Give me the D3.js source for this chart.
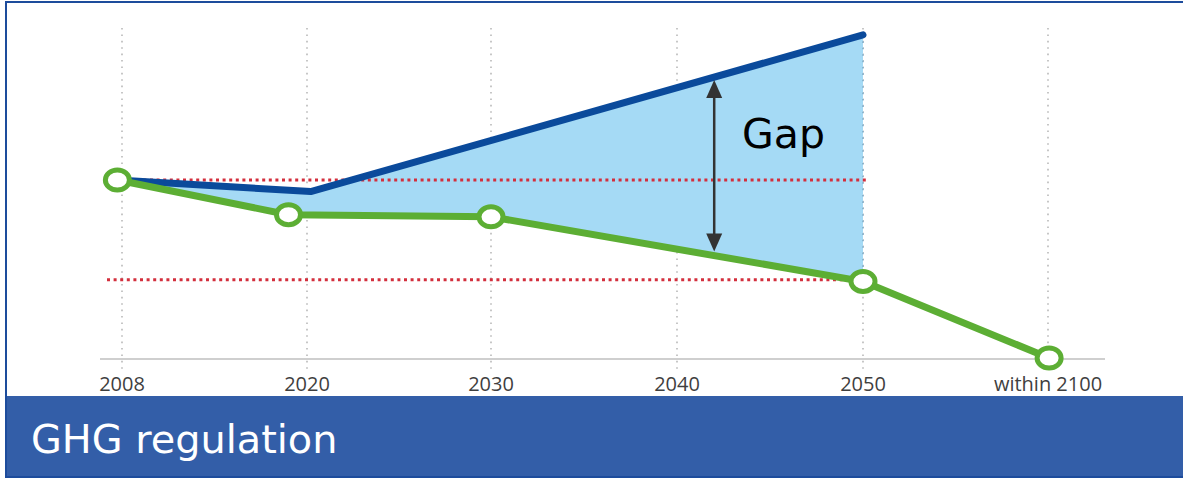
<!DOCTYPE html>
<html>
<head>
<meta charset="utf-8">
<script src="https://cdn.jsdelivr.net/npm/d3@7"></script>
<style>
  html, body { margin: 0; padding: 0; background: #fff; }
  svg { display: block; }
</style>
</head>
<body>
<svg id="chart" width="1183" height="479"></svg>
<script>
// Axis categories and their tick labels
const categories = [2008, 2020, 2030, 2040, 2050, 2100];
const tickLabels = ["2008", "2020", "2030", "2040", "2050", "within 2100"];

// Business-as-usual emissions path (index, 2008 = 100)
const bauYears  = [2007.7, 2020.2, 2050];
const bauValues = [100, 93.5, 181.5];

// Regulated reduction path (index, 2008 = 100)
const targetYears  = [2007.7, 2018.8, 2030, 2050, 2100.3];
const targetValues = [100, 80.5, 79.3, 43, 0];

// Reference levels (2008 level and 2050 target level)
const refLevels = [100, 44];

// Where the gap is measured
const gapYear = 2042;
const gapLabel = "Gap";
const bannerTitle = "GHG regulation";

const W = 1183, H = 479;
const svg = d3.select("#chart");

const x = d3.scaleLinear()
  .domain(categories)
  .range([122, 307, 491, 677, 863, 1048]);

const y = d3.scaleLinear().domain([0, 100]).range([358, 180]);

// outer frame
svg.append("rect")
  .attr("x", 6).attr("y", 2).attr("width", W + 10).attr("height", 475)
  .attr("fill", "#fff").attr("stroke", "#1d4c9c").attr("stroke-width", 2);

// vertical dotted gridlines
svg.append("g").selectAll("line").data(categories).join("line")
  .attr("x1", d => x(d)).attr("x2", d => x(d))
  .attr("y1", 28).attr("y2", 369)
  .attr("stroke", "#b9b9b9").attr("stroke-width", 1.6)
  .attr("stroke-dasharray", "1.6,4.8");

// baseline axis
svg.append("line")
  .attr("x1", 100).attr("x2", 1105)
  .attr("y1", y(0) + 1).attr("y2", y(0) + 1)
  .attr("stroke", "#cfcfcf").attr("stroke-width", 2);

// tick labels
svg.append("g").selectAll("text").data(categories).join("text")
  .attr("x", d => x(d)).attr("y", 391)
  .attr("text-anchor", "middle")
  .attr("font-family", "'Open Sans', Roboto, sans-serif")
  .attr("font-size", 20)
  .attr("fill", "#3f3f3f")
  .text((d, i) => tickLabels[i]);

// series as point lists
const bau = bauYears.map((yr, i) => ({ yr, v: bauValues[i] }));
const target = targetYears.map((yr, i) => ({ yr, v: targetValues[i] }));

function valueAt(series, yr) {
  for (let i = 0; i < series.length - 1; i++) {
    const a = series[i], b = series[i + 1];
    if (yr >= a.yr && yr <= b.yr) {
      return a.v + (b.v - a.v) * (yr - a.yr) / (b.yr - a.yr);
    }
  }
  return series[series.length - 1].v;
}

// shaded gap area between the two paths up to 2050
const endYear = bauYears[bauYears.length - 1];
const upper = bau.slice();
const lower = target.filter(d => d.yr <= endYear);
const areaPts = upper.concat(lower.slice().reverse());
svg.append("path")
  .attr("d", d3.line().x(d => x(d.yr)).y(d => y(d.v))(areaPts) + "Z")
  .attr("fill", "#a5daf5");

// gridline over the fill at 2050
svg.append("line")
  .attr("x1", x(2050)).attr("x2", x(2050))
  .attr("y1", y(bauValues[2])).attr("y2", y(43))
  .attr("stroke", "#86aec8").attr("stroke-width", 1.6)
  .attr("stroke-dasharray", "1.6,4.8");

// red reference lines
svg.append("line")
  .attr("x1", 117).attr("x2", 866)
  .attr("y1", y(refLevels[0])).attr("y2", y(refLevels[0]))
  .attr("stroke", "#d32f3d").attr("stroke-width", 3)
  .attr("stroke-dasharray", "3,3.6");
svg.append("line")
  .attr("x1", 107).attr("x2", 858)
  .attr("y1", y(refLevels[1])).attr("y2", y(refLevels[1]))
  .attr("stroke", "#d32f3d").attr("stroke-width", 3)
  .attr("stroke-dasharray", "3,3.6");

const line = d3.line().x(d => x(d.yr)).y(d => y(d.v));

// BAU line
svg.append("path")
  .attr("d", line(bau))
  .attr("fill", "none").attr("stroke", "#0a4a9b")
  .attr("stroke-width", 7).attr("stroke-linecap", "round").attr("stroke-linejoin", "round");

// regulated path
svg.append("path")
  .attr("d", line(target))
  .attr("fill", "none").attr("stroke", "#5cae34")
  .attr("stroke-width", 7).attr("stroke-linejoin", "round");

svg.append("g").selectAll("ellipse").data(target).join("ellipse")
  .attr("cx", d => x(d.yr)).attr("cy", d => y(d.v))
  .attr("rx", 12).attr("ry", 10)
  .attr("fill", "#fff").attr("stroke", "#5cae34").attr("stroke-width", 5);

// gap arrow
const gx = x(gapYear);
const gTop = y(valueAt(bau, gapYear)) + 3;
const gBot = y(valueAt(target, gapYear)) - 4;
svg.append("line")
  .attr("x1", gx).attr("x2", gx)
  .attr("y1", gTop + 14).attr("y2", gBot - 14)
  .attr("stroke", "#333").attr("stroke-width", 2.5);
svg.append("path")
  .attr("d", `M${gx},${gTop} L${gx - 8},${gTop + 18} L${gx + 8},${gTop + 18} Z`)
  .attr("fill", "#333");
svg.append("path")
  .attr("d", `M${gx},${gBot} L${gx - 8},${gBot - 18} L${gx + 8},${gBot - 18} Z`)
  .attr("fill", "#333");

svg.append("text")
  .attr("x", 742).attr("y", 148)
  .attr("font-family", "'DejaVu Sans', Verdana, sans-serif")
  .attr("font-size", 41)
  .attr("fill", "#000")
  .text(gapLabel);

// bottom title banner
svg.append("rect")
  .attr("x", 7).attr("y", 396).attr("width", W - 7).attr("height", 80)
  .attr("fill", "#335ea8");
svg.append("line")
  .attr("x1", 6).attr("x2", W).attr("y1", 477).attr("y2", 477)
  .attr("stroke", "#1d4c9c").attr("stroke-width", 2);
svg.append("text")
  .attr("x", 31).attr("y", 453)
  .attr("font-family", "'DejaVu Sans', Verdana, sans-serif")
  .attr("font-size", 39.8)
  .attr("fill", "#fff")
  .text(bannerTitle);
</script>
</body>
</html>
